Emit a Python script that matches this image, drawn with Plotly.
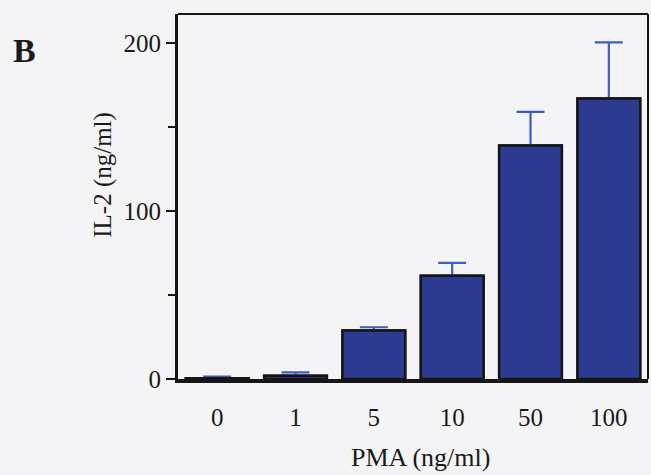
import plotly.graph_objects as go

categories = ["0", "1", "5", "10", "50", "100"]
il2_values = [0.5, 2.0, 28.8, 61.4, 139.0, 167.0]
il2_errors = [1.0, 2.0, 2.0, 7.7, 20.0, 33.4]
err_minus = [0, 0, 0, 0, 0, 0]
y_tickvals = [0, 100, 200]
y_ticktext = ["0", "100", "200"]

BG = "#f4f4f6"
FONT = "Liberation Serif, Times New Roman, serif"
INK = "#1a1a1a"

fig = go.Figure()
# error bars (drawn underneath the bars so the lower cap is hidden)
fig.add_trace(go.Bar(
    x=categories,
    y=il2_values,
    width=0.8,
    marker=dict(color="#2d3c92", line=dict(color="#161616", width=2.5)),
    error_y=dict(type="data", array=il2_errors, arrayminus=err_minus,
                 symmetric=False, color="#3d5cc4", thickness=2.2, width=14),
    hoverinfo="skip",
))
# bars on top
fig.add_trace(go.Bar(
    x=categories,
    y=il2_values,
    width=0.8,
    marker=dict(color="#2d3c92", line=dict(color="#161616", width=2.5)),
))

fig.update_layout(
    width=651, height=475,
    margin=dict(l=178, r=3, t=14, b=96),
    paper_bgcolor=BG, plot_bgcolor=BG,
    showlegend=False,
    barmode="overlay",
    font=dict(family=FONT, color=INK, size=25),
)
fig.update_xaxes(
    type="category", range=[-0.5, 5.5],
    showline=True, linecolor="#161616", linewidth=3.5,
    ticks="", ticklabelstandoff=13,
    tickfont=dict(family=FONT, size=25, color=INK),
    showgrid=False, zeroline=False,
)
fig.update_yaxes(
    range=[0, 217.3],
    tickvals=y_tickvals, ticktext=y_ticktext,
    showline=True, linecolor="#161616", linewidth=3,
    ticks="outside", ticklen=9, tickwidth=2, tickcolor="#161616",
    minor=dict(tickvals=[50, 150], ticks="outside", ticklen=7, tickwidth=2, tickcolor="#161616"),
    tickfont=dict(family=FONT, size=25, color=INK),
    showgrid=False, zeroline=False,
)
# top and right frame lines
fig.add_shape(type="line", xref="paper", yref="paper", x0=0, x1=1, y0=1, y1=1,
              line=dict(color="#161616", width=2))
fig.add_shape(type="line", xref="paper", yref="paper", x0=1, x1=1, y0=0, y1=1,
              line=dict(color="#161616", width=2))
# axis titles
fig.add_annotation(text="PMA (ng/ml)", xref="paper", yref="paper",
                   x=0.517, y=-0.214, xanchor="center", yanchor="middle", showarrow=False,
                   font=dict(family=FONT, size=26, color=INK))
fig.add_annotation(text="IL-2 (ng/ml)", xref="paper", yref="paper", textangle=-90,
                   x=-0.16, y=0.559, xanchor="center", yanchor="middle", showarrow=False,
                   font=dict(family=FONT, size=25, color=INK))
fig.add_annotation(text="<b>B</b>", xref="paper", yref="paper",
                   x=-0.355, y=0.9, xanchor="left", yanchor="middle", showarrow=False,
                   font=dict(family=FONT, size=34, color=INK))

fig.write_html("out.html")
